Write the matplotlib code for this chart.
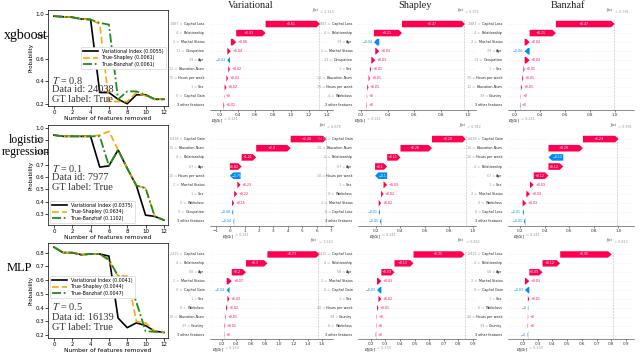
import matplotlib
matplotlib.use("Agg")
import matplotlib.pyplot as plt
from matplotlib.patches import FancyArrow

plt.rcParams["mathtext.fontset"] = "stix"

# ---------------- data: removal curves ----------------
steps = list(range(13))
model_names = ["xgboost", "logistic\nregression", "MLP"]
temperatures = ["0.8", "0.1", "0.5"]
data_ids = ["24038", "7977", "16139"]
gt_labels = ["True", "True", "True"]

xgb_var = [0.98, 0.975, 0.97, 0.955, 0.95, 0.30, 0.30, 0.24, 0.20, 0.28, 0.28, 0.24, 0.24]
xgb_shap = [0.98, 0.975, 0.97, 0.955, 0.95, 0.91, 0.22, 0.22, 0.22, 0.30, 0.27, 0.24, 0.24]
xgb_banz = [0.98, 0.975, 0.97, 0.955, 0.95, 0.92, 0.905, 0.24, 0.31, 0.31, 0.28, 0.24, 0.24]

lr_var = [0.94, 0.93, 0.93, 0.93, 0.93, 0.68, 0.69, 0.82, 0.67, 0.53, 0.29, 0.28, 0.25]
lr_shap = [0.94, 0.93, 0.93, 0.93, 0.93, 0.94, 0.97, 0.82, 0.67, 0.53, 0.51, 0.28, 0.25]
lr_banz = [0.94, 0.93, 0.93, 0.93, 0.93, 0.93, 0.69, 0.82, 0.67, 0.53, 0.51, 0.28, 0.25]

mlp_var = [0.84, 0.80, 0.80, 0.785, 0.79, 0.79, 0.775, 0.325, 0.255, 0.29, 0.27, 0.23, 0.22]
mlp_shap = [0.84, 0.80, 0.80, 0.785, 0.79, 0.79, 0.74, 0.63, 0.63, 0.30, 0.29, 0.23, 0.22]
mlp_banz = [0.84, 0.80, 0.80, 0.785, 0.79, 0.79, 0.75, 0.63, 0.62, 0.44, 0.23, 0.225, 0.22]

var_err = [0.0055, 0.0375, 0.0041]
shap_err = [0.0061, 0.0634, 0.0044]
banz_err = [0.0061, 0.1102, 0.0047]

# ---------------- data: waterfall explanations ----------------
method_titles = ["Variational", "Shapley", "Banzhaf"]

xgb_feat_values = {"Capital Loss": "1887", "Relationship": "4", "Marital Status": "2",
                   "Occupation": "13", "Age": "39", "Education-Num": "12",
                   "Hours per week": "70", "Sex": "1", "Capital Gain": "0",
                   "Workclass": "4", "Country": "39"}
lr_feat_values = {"Capital Gain": "6418", "Education-Num": "15", "Relationship": "4",
                  "Age": "67", "Hours per week": "10", "Marital Status": "2", "Sex": "1",
                  "Workclass": "0", "Occupation": "0", "Capital Loss": "0"}
mlp_feat_values = {"Capital Loss": "2415", "Relationship": "4", "Age": "58",
                   "Marital Status": "2", "Capital Gain": "0", "Sex": "1", "Workclass": "6",
                   "Education-Num": "10", "Country": "39", "Hours per week": "40"}

xgb_var_names = ["Capital Loss", "Relationship", "Marital Status", "Occupation", "Age",
                 "Education-Num", "Hours per week", "Sex", "Capital Gain", "3 other features"]
xgb_var_vals = [0.61, 0.33, 0.06, 0.04, -0.03, 0.02, 0.02, 0.02, 0.003, 0.01]
xgb_shap_names = ["Capital Loss", "Relationship", "Age", "Marital Status", "Occupation",
                  "Sex", "Education-Num", "Hours per week", "Workclass", "3 other features"]
xgb_shap_vals = [0.47, 0.21, -0.04, 0.03, 0.03, 0.01, 0.01, 0.01, 0.003, 0.003]
xgb_banz_names = ["Capital Loss", "Relationship", "Marital Status", "Age", "Occupation",
                  "Sex", "Hours per week", "Education-Num", "Country", "3 other features"]
xgb_banz_vals = [0.47, 0.21, 0.04, -0.04, 0.04, 0.01, 0.01, 0.01, 0.003, 0.003]

lr_var_names = ["Capital Gain", "Education-Num", "Relationship", "Age", "Hours per week",
                "Marital Status", "Sex", "Workclass", "Occupation", "3 other features"]
lr_var_vals = [2.48, 2.4, 1.01, 0.82, -0.75, 0.23, 0.22, 0.15, -0.08, -0.04]
lr_shap_names = ["Capital Gain", "Education-Num", "Relationship", "Age", "Hours per week",
                 "Sex", "Workclass", "Marital Status", "Capital Loss", "3 other features"]
lr_shap_vals = [0.28, 0.26, 0.11, 0.10, -0.10, 0.03, 0.02, 0.02, -0.01, -0.01]
lr_banz_names = ["Capital Gain", "Education-Num", "Hours per week", "Relationship", "Age",
                 "Sex", "Marital Status", "Workclass", "Capital Loss", "3 other features"]
lr_banz_vals = [0.29, 0.28, -0.12, 0.12, 0.12, 0.03, 0.03, 0.03, -0.01, -0.01]

mlp_var_names = ["Capital Loss", "Relationship", "Age", "Marital Status", "Capital Gain",
                 "Sex", "Workclass", "Education-Num", "Country", "3 other features"]
mlp_var_vals = [0.73, 0.30, 0.20, 0.07, -0.04, 0.03, 0.02, 0.01, 0.01, 0.003]
mlp_shap_names = ["Capital Loss", "Relationship", "Age", "Marital Status", "Capital Gain",
                  "Sex", "Hours per week", "Country", "Workclass", "3 other features"]
mlp_shap_vals = [0.35, 0.13, 0.09, 0.03, -0.03, 0.02, 0.01, 0.003, 0.003, 0.003]
mlp_banz_names = ["Capital Loss", "Relationship", "Age", "Marital Status", "Capital Gain",
                  "Sex", "Workclass", "Hours per week", "Country", "3 other features"]
mlp_banz_vals = [0.35, 0.12, 0.09, 0.03, -0.03, 0.01, -0.003, 0.003, 0.003, -0.003]

base_values = [0.241, 0.241, 0.233]
fx_xgb = [1.314, 0.971, 0.991]
fx_lr = [6.678, 0.942, 0.991]
fx_mlp = [1.543, 0.842, 0.813]

xticks_xgb = [[0.2, 0.4, 0.6, 0.8, 1.0, 1.2, 1.4], [0.2, 0.4, 0.6, 0.8, 1.0], [0.2, 0.4, 0.6, 0.8, 1.0]]
xticks_lr = [[-1, 0, 1, 2, 3, 4, 5, 6, 7], [0.2, 0.4, 0.6, 0.8, 1.0], [0.2, 0.4, 0.6, 0.8, 1.0]]
xticks_mlp = [[0.2, 0.4, 0.6, 0.8, 1.0, 1.2, 1.4, 1.6],
              [0.2, 0.3, 0.4, 0.5, 0.6, 0.7, 0.8, 0.9],
              [0.2, 0.3, 0.4, 0.5, 0.6, 0.7, 0.8, 0.9]]

# ---------------- figure ----------------
W, H = 640, 353
fig = plt.figure(figsize=(6.4, 3.53), dpi=100)


def px_axes(l, t, r, b):
    return fig.add_axes([l / W, 1 - b / H, (r - l) / W, (b - t) / H])


RED = "#ff0051"
BLUE = "#008bfb"
SERIF = ["Liberation Serif", "DejaVu Serif"]


def fmt(v):
    s = f"{v:+.2f}".rstrip("0").rstrip(".")
    return s.replace("-", "\u2212")


def tick_text(t):
    if float(t).is_integer() and (abs(t) >= 1 or t == 0) and isinstance(t, int):
        return str(t).replace("-", "\u2212")
    return f"{t:.1f}"


def waterfall(ax, names, vals, fvals, base, fx, xlim, xticks):
    n = len(vals)
    xr = xlim[1] - xlim[0]
    ax.set_xlim(*xlim)
    ax.set_ylim(-0.5, n - 0.5)
    hl = 0.028 * xr
    bw = 0.72
    cum = base
    for i in range(n - 1, -1, -1):
        v = vals[i]
        y = n - 1 - i
        start = cum
        cum = cum + v
        col = RED if v >= 0 else BLUE
        L = abs(v)
        ax.add_patch(FancyArrow(start, y, v, 0, width=bw, head_width=bw,
                                head_length=min(hl, L), length_includes_head=True,
                                color=col, lw=0, zorder=2))
        lab = fmt(v)
        if L / xr > 0.08:
            ax.text(start + v / 2 - (hl / 2 if v > 0 else -hl / 2), y, lab, color="white",
                    fontsize=2.3, ha="center", va="center", zorder=3)
        elif v >= 0:
            ax.text(cum + 0.012 * xr, y, lab, color=col, fontsize=2.3, ha="left",
                    va="center", zorder=3)
        else:
            ax.text(cum - 0.012 * xr, y, lab, color=col, fontsize=2.3, ha="right",
                    va="center", zorder=3)
        ax.axhline(y, color="#cccccc", lw=0.4, dashes=(1, 4), zorder=-1)
        nm = ax.annotate(names[i], xy=(0, y), xycoords=("axes fraction", "data"),
                         xytext=(-4, 0), textcoords="offset points", ha="right",
                         va="center", fontsize=2.4, color="#222222")
        if names[i] in fvals and not names[i].startswith("3 other"):
            ax.annotate(fvals[names[i]] + " = ", xy=(0, 0.5), xycoords=nm,
                        ha="right", va="center", fontsize=2.4, color="#999999")
    ax.axvline(fx, color="#bbbbbb", ls="--", lw=0.4, zorder=-1)
    ax.axvline(base, 0, 1 / n, color="#bbbbbb", ls="--", lw=0.4, zorder=-1)
    ax.set_yticks([])
    ax.set_xticks(xticks)
    ax.set_xticklabels([tick_text(t) for t in xticks])
    ax.tick_params(axis="x", labelsize=3, length=1.5, width=0.4, pad=0.8, colors="#333333")
    for s in ["left", "right", "top"]:
        ax.spines[s].set_visible(False)
    ax.spines["bottom"].set_linewidth(0.4)
    ax.spines["bottom"].set_color("#333333")
    # f(x) label on top, E[f(X)] label at bottom
    ax.annotate("$f(x)$", xy=(fx, 1), xycoords=("data", "axes fraction"), xytext=(0, 4),
                textcoords="offset points", ha="right", va="bottom", fontsize=2.6)
    ax.annotate(f" = {fx:.3f}", xy=(fx, 1), xycoords=("data", "axes fraction"), xytext=(0, 4),
                textcoords="offset points", ha="left", va="bottom", fontsize=2.4, color="#999999")
    ax.annotate("$E[f(X)]$", xy=(base, 0), xycoords=("data", "axes fraction"), xytext=(0, -5),
                textcoords="offset points", ha="right", va="top", fontsize=2.6)
    ax.annotate(f" = {base:.3f}", xy=(base, 0), xycoords=("data", "axes fraction"), xytext=(0, -5),
                textcoords="offset points", ha="left", va="top", fontsize=2.4, color="#999999")


# line plot panels
line_rows = [(10, 106), (125, 225), (243, 338)]
ylims = [(0.18, 1.035), (0.21, 1.022), (0.18, 0.87)]
yticks = [[0.2, 0.4, 0.6, 0.8, 1.0], [0.3, 0.4, 0.5, 0.6, 0.7, 0.8, 0.9, 1.0],
          [0.2, 0.3, 0.4, 0.5, 0.6, 0.7, 0.8]]
var_curves = [xgb_var, lr_var, mlp_var]
shap_curves = [xgb_shap, lr_shap, mlp_shap]
banz_curves = [xgb_banz, lr_banz, mlp_banz]
legend_locs = [dict(loc="center right", bbox_to_anchor=(1.0, 0.5)),
               dict(loc="lower left", bbox_to_anchor=(0.0, 0.0)),
               dict(loc="center left", bbox_to_anchor=(0.0, 0.54))]
text_y = [(0.27, 0.17, 0.07), (0.57, 0.47, 0.37), (0.33, 0.22, 0.11)]
name_pos = [(26, 36), (26, 146), (19, 268)]
name_size = [10, 8.5, 9]

for r in range(3):
    t, b = line_rows[r]
    ax = px_axes(48, t, 168, b)
    ax.plot(steps, var_curves[r], color="black", lw=1.2,
            label=f"Variational Index ({var_err[r]:.4f})")
    ax.plot(steps, shap_curves[r], color="#ffa500", lw=1.2, ls=(0, (4, 2)),
            label=f"True-Shapley ({shap_err[r]:.4f})")
    ax.plot(steps, banz_curves[r], color="#1e8c1e", lw=1.3, ls=(0, (5, 1.5, 1, 1.5)),
            label=f"True-Banzhaf ({banz_err[r]:.4f})")
    ax.set_xlim(-0.65, 12.45)
    ax.set_ylim(*ylims[r])
    ax.set_xticks(range(0, 13, 2))
    ax.set_yticks(yticks[r])
    ax.tick_params(labelsize=4, length=2, width=0.5, pad=0.8)
    for s in ax.spines.values():
        s.set_linewidth(0.5)
    ax.set_xlabel("Number of features removed", fontsize=4.3, labelpad=0.5)
    ax.set_ylabel("Probability", fontsize=4, labelpad=1)
    leg = ax.legend(fontsize=3.4, handlelength=3.2, borderpad=0.4, labelspacing=0.3,
                    framealpha=1, edgecolor="#cccccc", **legend_locs[r])
    leg.get_frame().set_linewidth(0.4)
    ty = text_y[r]
    ax.text(0.03, ty[0], f"$T$ = {temperatures[r]}", transform=ax.transAxes,
            fontsize=7.5, family=SERIF, va="center", color="#333333")
    ax.text(0.03, ty[1], f"Data id: {data_ids[r]}", transform=ax.transAxes,
            fontsize=7.5, family=SERIF, va="center", color="#333333")
    ax.text(0.03, ty[2], f"GT label: {gt_labels[r]}", transform=ax.transAxes,
            fontsize=7.5, family=SERIF, va="center", color="#333333")
    nx, ny = name_pos[r]
    fig.text(nx / W, 1 - ny / H, model_names[r], fontsize=name_size[r], family=SERIF,
             ha="center", va="center", linespacing=0.9, zorder=-1)

# waterfall panels
wf_rows = [(19.5, 110), (134.5, 226), (250, 339)]
wf_cols = [(210, 333), (358, 476), (508, 634)]
xlims = [[(0.09, 1.47), (0.178, 1.06), (0.144, 1.152)],
         [(-1.41, 7.14), (0.05, 1.025), (0.102, 1.126)],
         [(0.032, 1.755), (0.112, 0.92), (0.098, 0.955)]]
all_names = [[xgb_var_names, xgb_shap_names, xgb_banz_names],
             [lr_var_names, lr_shap_names, lr_banz_names],
             [mlp_var_names, mlp_shap_names, mlp_banz_names]]
all_vals = [[xgb_var_vals, xgb_shap_vals, xgb_banz_vals],
            [lr_var_vals, lr_shap_vals, lr_banz_vals],
            [mlp_var_vals, mlp_shap_vals, mlp_banz_vals]]
all_feat_values = [xgb_feat_values, lr_feat_values, mlp_feat_values]
all_fx = [fx_xgb, fx_lr, fx_mlp]
all_xticks = [xticks_xgb, xticks_lr, xticks_mlp]

for r in range(3):
    t, b = wf_rows[r]
    for c in range(3):
        l, rr = wf_cols[c]
        ax = px_axes(l, t, rr, b)
        waterfall(ax, all_names[r][c], all_vals[r][c], all_feat_values[r],
                  base_values[r], all_fx[r][c], xlims[r][c], all_xticks[r][c])

title_x = [251, 415, 568]
for c in range(3):
    fig.text(title_x[c] / W, 1 - 5.5 / H, method_titles[c], fontsize=7.5, family=SERIF,
             ha="center", va="center", color="#222222")

fig.savefig("out.png", dpi=100)
